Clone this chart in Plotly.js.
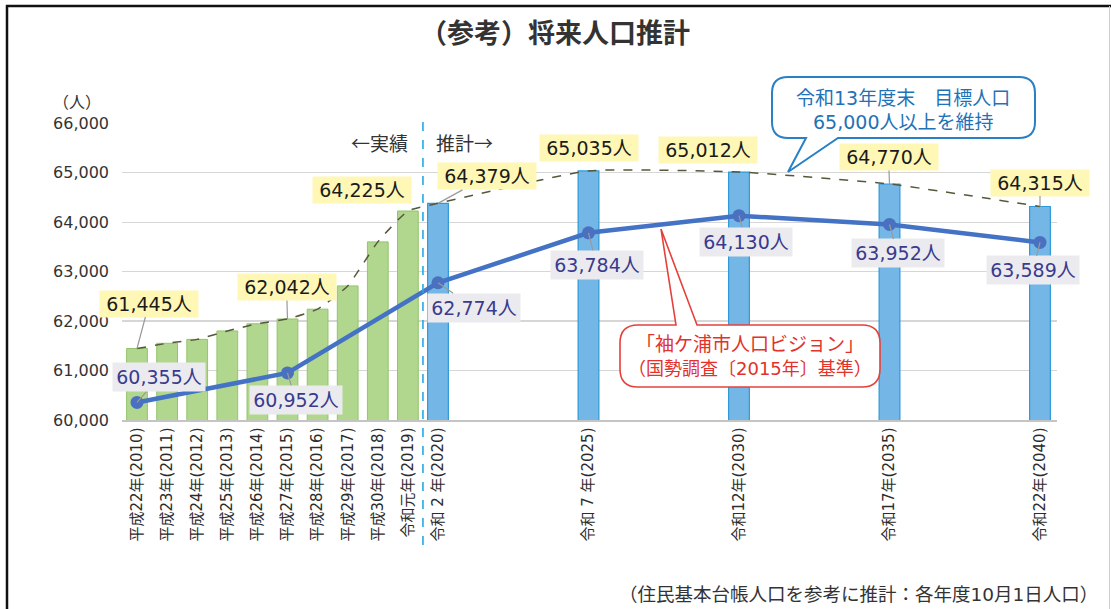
<!DOCTYPE html>
<html>
<head>
<meta charset="utf-8">
<script src="https://cdn.plot.ly/plotly-3.0.1.min.js"></script>
<style>
  html, body { margin: 0; padding: 0; background: #fff; }
  #chart { width: 1111px; height: 609px; }
</style>
</head>
<body>
<div id="chart"></div>
<script>
// ---- data ----
const yearsActual = [2010, 2011, 2012, 2013, 2014, 2015, 2016, 2017, 2018, 2019];
const popActual   = [61445, 61550, 61630, 61800, 61945, 62042, 62240, 62710, 63600, 64225];
const yearsProj   = [2020, 2025, 2030, 2035, 2040];
const popProj     = [64379, 65035, 65012, 64770, 64315];
const yearsVision = [2010, 2015, 2020, 2025, 2030, 2035, 2040];
const popVision   = [60355, 60952, 62774, 63784, 64130, 63952, 63589];
const tickYears   = [2010, 2011, 2012, 2013, 2014, 2015, 2016, 2017, 2018, 2019, 2020, 2025, 2030, 2035, 2040];
const tickLabels  = ['平成22年(2010)', '平成23年(2011)', '平成24年(2012)', '平成25年(2013)', '平成26年(2014)',
                     '平成27年(2015)', '平成28年(2016)', '平成29年(2017)', '平成30年(2018)', '令和元年(2019)',
                     '令和 2 年(2020)', '令和 7 年(2025)', '令和12年(2030)', '令和17年(2035)', '令和22年(2040)'];
const labeledTotalYears = [2010, 2015, 2019, 2020, 2025, 2030, 2035, 2040];

// ---- layout helpers (pixel -> paper) ----
const L = 122, R = 1057, T = 123, B = 420;
const px = X => (X - L) / (R - L);
const py = Y => (B - Y) / (B - T);

const NUMFONT = '"DejaVu Sans", "Noto Sans CJK JP", sans-serif';
const JPFONT = '"Noto Sans CJK JP", sans-serif';

const allYears = yearsActual.concat(yearsProj);
const allPop = popActual.concat(popProj);
const fmt = v => v.toLocaleString('en-US') + '人';

const traces = [
  { type: 'bar', x: yearsActual, y: popActual, width: 0.69,
    marker: { color: '#b1d68e', line: { color: '#93c46e', width: 1 } } },
  { type: 'bar', x: yearsProj, y: popProj, width: 0.69,
    marker: { color: '#74b6e6', line: { color: '#2f9ad8', width: 1.2 } } },
  { type: 'scatter', mode: 'lines', x: allYears, y: allPop,
    line: { color: '#55583a', width: 1.5, dash: 'dash', shape: 'spline', smoothing: 0.45 } },
  { type: 'scatter', mode: 'lines+markers', x: yearsVision, y: popVision,
    line: { color: '#4472c4', width: 4.5 },
    marker: { color: '#4a70c0', size: 13 } }
];

// label placement (pixel offsets)
const totalPlace = {
  2010: { ax: 12, ay: -45 }, 2015: { ax: -1, ay: -32 }, 2019: { xs: -46, ys: 21 },
  2020: { ax: 49, ay: -27 }, 2025: { xs: 0, ys: 23 }, 2030: { xs: -31, ys: 22 },
  2035: { ax: -1, ay: -27 }, 2040: { ax: 0, ay: -24 }
};
const visionPlace = {
  2010: { ax: 22, ay: -25 }, 2015: { ax: 8, ay: 27 }, 2020: { ax: 36, ay: 25 },
  2025: { ax: 8, ay: 32 }, 2030: { ax: 7, ay: 26 }, 2035: { ax: 8, ay: 29 }, 2040: { ax: -7, ay: 28 }
};

const annotations = [];
labeledTotalYears.forEach(yr => {
  const v = allPop[allYears.indexOf(yr)];
  const p = totalPlace[yr];
  const a = { x: yr, y: v, xref: 'x', yref: 'y', text: fmt(v),
    font: { family: NUMFONT, size: 19, color: '#1a1a1a' },
    bgcolor: '#fff7b5', width: 94, height: 22, borderpad: 2 };
  if (p.ax !== undefined) {
    Object.assign(a, { showarrow: true, ax: p.ax, ay: p.ay, arrowhead: 0, arrowwidth: 1.2, arrowcolor: '#9a9a9a', standoff: 0 });
  } else {
    Object.assign(a, { showarrow: false, xshift: p.xs, yshift: p.ys });
  }
  annotations.push(a);
});
yearsVision.forEach((yr, i) => {
  const p = visionPlace[yr];
  annotations.push({ x: yr, y: popVision[i], xref: 'x', yref: 'y', text: fmt(popVision[i]),
    font: { family: NUMFONT, size: 19, color: '#3a3a8e' },
    bgcolor: '#ebebef', width: 88, height: 24, borderpad: 2,
    showarrow: true, ax: p.ax, ay: p.ay, arrowhead: 0, arrowwidth: 1.2, arrowcolor: '#9a9a9a', standoff: 0 });
});

function paperText(X, Y, text, size, color, family, anchor, extra) {
  return Object.assign({ xref: 'paper', yref: 'paper', x: px(X), y: py(Y), text: text, showarrow: false,
    xanchor: anchor || 'center', yanchor: 'middle',
    font: { family: family || JPFONT, size: size, color: color } }, extra || {});
}

annotations.push(paperText(555, 32, '<b>（参考）将来人口推計</b>', 27, '#333333'));
annotations.push(paperText(77, 102, '（人）', 16, '#333333', NUMFONT));
annotations.push(paperText(379, 142, '←実績', 19, '#333333', JPFONT));
annotations.push(paperText(464, 142, '推計→', 19, '#333333', JPFONT));
annotations.push(paperText(903, 98, '令和13年度末　目標人口', 19, '#1f72b8', NUMFONT));
annotations.push(paperText(903, 122, '65,000人以上を維持', 19, '#1f72b8', NUMFONT));
annotations.push(paperText(750, 342, '「袖ケ浦市人口ビジョン」', 19, '#e3312b', JPFONT));
annotations.push(paperText(750, 368, '（国勢調査〔2015年〕基準）', 18, '#e3312b', NUMFONT));
annotations.push(paperText(1100, 594, '（住民基本台帳人口を参考に推計：各年度10月1日人口）', 18.5, '#333333', NUMFONT, 'right'));

// callout paths
function P(X, Y) { return px(X).toFixed(5) + ',' + py(Y).toFixed(5); }
function calloutBottom(x0, y0, x1, y1, r, tb1, tip, tb2) {
  return 'M' + P(x0 + r, y0) + ' L' + P(x1 - r, y0) + ' Q' + P(x1, y0) + ' ' + P(x1, y0 + r) +
    ' L' + P(x1, y1 - r) + ' Q' + P(x1, y1) + ' ' + P(x1 - r, y1) +
    ' L' + P(tb2, y1) + ' L' + P(tip[0], tip[1]) + ' L' + P(tb1, y1) +
    ' L' + P(x0 + r, y1) + ' Q' + P(x0, y1) + ' ' + P(x0, y1 - r) +
    ' L' + P(x0, y0 + r) + ' Q' + P(x0, y0) + ' ' + P(x0 + r, y0) + ' Z';
}
function calloutTop(x0, y0, x1, y1, r, tb1, tip, tb2) {
  return 'M' + P(x0 + r, y0) + ' L' + P(tb1, y0) + ' L' + P(tip[0], tip[1]) + ' L' + P(tb2, y0) +
    ' L' + P(x1 - r, y0) + ' Q' + P(x1, y0) + ' ' + P(x1, y0 + r) +
    ' L' + P(x1, y1 - r) + ' Q' + P(x1, y1) + ' ' + P(x1 - r, y1) +
    ' L' + P(x0 + r, y1) + ' Q' + P(x0, y1) + ' ' + P(x0, y1 - r) +
    ' L' + P(x0, y0 + r) + ' Q' + P(x0, y0) + ' ' + P(x0 + r, y0) + ' Z';
}

const shapes = [
  { type: 'line', xref: 'x', yref: 'paper', x0: 2019.5, x1: 2019.5, y0: py(545), y1: py(118),
    line: { color: '#26a8e3', width: 1.6, dash: 'dash' }, layer: 'above' },
  { type: 'path', xref: 'paper', yref: 'paper', layer: 'above',
    path: calloutBottom(772, 77, 1035, 138, 16, 806, [788, 172], 838),
    fillcolor: '#ffffff', line: { color: '#2a80c4', width: 2 } },
  { type: 'path', xref: 'paper', yref: 'paper', layer: 'above',
    path: calloutTop(620, 325, 880, 387, 18, 676, [661, 229], 697),
    fillcolor: '#ffffff', line: { color: '#e5403a', width: 1.6 } },
  // frame
  { type: 'line', xref: 'paper', yref: 'paper', x0: px(6), x1: px(1111), y0: py(6), y1: py(6),
    line: { color: '#111111', width: 2.5 } },
  { type: 'line', xref: 'paper', yref: 'paper', x0: px(7), x1: px(7), y0: py(5), y1: py(609),
    line: { color: '#111111', width: 2.5 } },
  { type: 'line', xref: 'paper', yref: 'paper', x0: px(1109.5), x1: px(1109.5), y0: py(6), y1: py(609),
    line: { color: '#cfcfcf', width: 1 } }
];

const layout = {
  width: 1111, height: 609,
  margin: { l: L, r: 1111 - R, t: T, b: 609 - B, pad: 0 },
  paper_bgcolor: '#ffffff', plot_bgcolor: '#ffffff',
  showlegend: false, hovermode: false, barmode: 'overlay',
  xaxis: {
    range: [2010 - 15 / 30.1, 2040 + 17 / 30.1],
    tickmode: 'array', tickvals: tickYears, ticktext: tickLabels, tickangle: -90,
    tickfont: { family: NUMFONT, size: 15, color: '#2b2b2b' },
    showgrid: false, zeroline: false, showline: true, linecolor: '#c4c4c4', linewidth: 1.5,
    ticks: '', automargin: false
  },
  yaxis: {
    range: [60000, 66003], dtick: 1000, tick0: 60000, tickformat: ',d',
    tickfont: { family: NUMFONT, size: 16, color: '#333333' },
    showgrid: true, gridcolor: '#d6d6d6', gridwidth: 1.2,
    zeroline: false, showline: false, ticks: '', ticklabelstandoff: 12, automargin: false
  },
  annotations: annotations,
  shapes: shapes
};

Plotly.newPlot('chart', traces, layout, { staticPlot: true, displayModeBar: false });
</script>
</body>
</html>
